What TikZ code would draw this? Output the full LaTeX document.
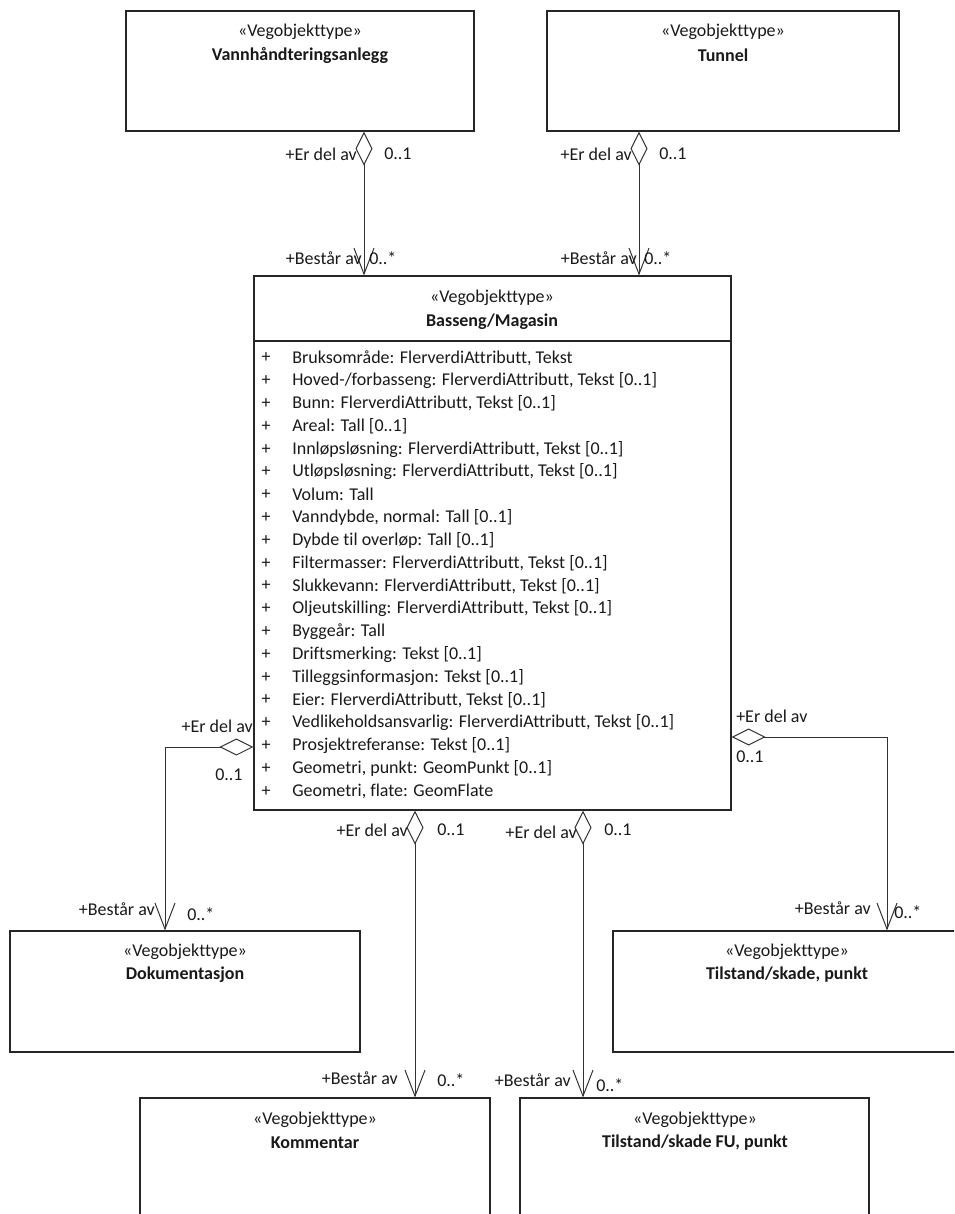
\documentclass[tikz,border=0pt]{standalone}
\usepackage{fontspec}
\setmainfont{Carlito}[Ligatures=NoCommon]
\usetikzlibrary{arrows.meta,fit,calc}
\begin{document}
\begin{tikzpicture}[x=0.75pt,y=-0.75pt,
  box/.style={draw=black!85, line width=0.8pt, inner sep=0pt},
  txt/.style={inner sep=0pt, font=\fontsize{13.5}{16}\selectfont, text=black!90},
  nm/.style={inner sep=0pt, font=\fontsize{13.5}{16}\selectfont\bfseries, text=black!90},
  agg/.style={draw=black!80, line width=0.75pt,
    {Diamond[open,length=25.5pt,width=12.75pt,line width=0.75pt]}-{Straight Barb[length=19.5pt,width=15pt,line width=0.75pt]}}]
\useasboundingbox (0,0) rectangle (954,1214);
\clip (0,0) rectangle (954,1214);

% boxes
\node[box, fit={(126,11) (474,131)}] (vann) {};
\node[txt] (vann-s) at (300,32) {«Vegobjekttype»};
\node[nm] (vann-n) at (300,55) {Vannhåndteringsanlegg};

\node[box, fit={(547,11) (899,131)}] (tunnel) {};
\node[txt] (tunnel-s) at (723,32) {«Vegobjekttype»};
\node[nm] (tunnel-n) at (723,55) {Tunnel};

\node[box, fit={(254,276) (731,810)}] (bass) {};
\node[txt] (bass-s) at (492,298) {«Vegobjekttype»};
\node[nm] (bass-n) at (492,322) {Basseng/Magasin};
\coordinate (sep) at (0,341);
\draw[draw=black!85, line width=0.8pt] (bass.west |- sep) -- (bass.east |- sep);

\foreach \t [count=\i from 0] in {
  {Bruksområde: FlerverdiAttributt, Tekst},
  {Hoved-/forbasseng: FlerverdiAttributt, Tekst [0..1]},
  {Bunn: FlerverdiAttributt, Tekst [0..1]},
  {Areal: Tall [0..1]},
  {Innløpsløsning: FlerverdiAttributt, Tekst [0..1]},
  {Utløpsløsning: FlerverdiAttributt, Tekst [0..1]},
  {Volum: Tall},
  {Vanndybde, normal: Tall [0..1]},
  {Dybde til overløp: Tall [0..1]},
  {Filtermasser: FlerverdiAttributt, Tekst [0..1]},
  {Slukkevann: FlerverdiAttributt, Tekst [0..1]},
  {Oljeutskilling: FlerverdiAttributt, Tekst [0..1]},
  {Byggeår: Tall},
  {Driftsmerking: Tekst [0..1]},
  {Tilleggsinformasjon: Tekst [0..1]},
  {Eier: FlerverdiAttributt, Tekst [0..1]},
  {Vedlikeholdsansvarlig: FlerverdiAttributt, Tekst [0..1]},
  {Prosjektreferanse: Tekst [0..1]},
  {Geometri, punkt: GeomPunkt [0..1]},
  {Geometri, flate: GeomFlate}} {
  \node[txt] (p\i) at (266,{358+22.8*\i}) {+};
  \node[txt, anchor=west] (a\i) at (292,{358+22.8*\i}) {\t};
}

\node[box, fit={(10,931) (360,1052)}] (doku) {};
\node[txt] (doku-s) at (185,952) {«Vegobjekttype»};
\node[nm] (doku-n) at (185,975) {Dokumentasjon};

\node[box, fit={(613,931) (960,1052)}] (tsp) {};
\node[txt] (tsp-s) at (787,952) {«Vegobjekttype»};
\node[nm] (tsp-n) at (787,975) {Tilstand/skade, punkt};

\node[box, fit={(140,1098) (490,1222)}] (komm) {};
\node[txt] (komm-s) at (315,1120) {«Vegobjekttype»};
\node[nm] (komm-n) at (315,1143) {Kommentar};

\node[box, fit={(520,1098) (869,1222)}] (fu) {};
\node[txt] (fu-s) at (695,1120) {«Vegobjekttype»};
\node[nm] (fu-n) at (695,1143) {Tilstand/skade FU, punkt};

% connector positions
\coordinate (c1) at (364,0);
\coordinate (c2) at (639,0);
\coordinate (c3) at (415,0);
\coordinate (c4) at (583,0);
\coordinate (cL) at (165,747);
\coordinate (cR) at (887,737);

\draw[agg] (c1 |- vann.south) -- (c1 |- bass.north);
\draw[agg] (c2 |- tunnel.south) -- (c2 |- bass.north);
\draw[agg] (c3 |- bass.south) -- (c3 |- komm.north);
\draw[agg] (c4 |- bass.south) -- (c4 |- fu.north);
\draw[agg] (cL -| bass.west) -- (cL) -- (cL |- doku.north);
\draw[agg] (cR -| bass.east) -- (cR) -- (cR |- tsp.north);

% role labels
\node[txt, anchor=east] (l1a) at (357,154) {+Er del av};
\node[txt, anchor=west] (l1b) at (384,154) {0..1};
\node[txt, anchor=east] (l1c) at (362,258) {+Består av};
\node[txt, anchor=west] (l1d) at (369,258) {0..*};

\node[txt, anchor=east] (l2a) at (632,154) {+Er del av};
\node[txt, anchor=west] (l2b) at (659,154) {0..1};
\node[txt, anchor=east] (l2c) at (637,258) {+Består av};
\node[txt, anchor=west] (l2d) at (644,258) {0..*};

\node[txt, anchor=east] (l3a) at (253,726) {+Er del av};
\node[txt, anchor=west] (l3b) at (215,775) {0..1};
\node[txt, anchor=east] (l3c) at (155,909) {+Består av};
\node[txt, anchor=west] (l3d) at (187,914) {0..*};

\node[txt, anchor=west] (l4a) at (736,716) {+Er del av};
\node[txt, anchor=west] (l4b) at (736,757) {0..1};
\node[txt, anchor=east] (l4c) at (871,908) {+Består av};
\node[txt, anchor=west] (l4d) at (894,912) {0..*};

\node[txt, anchor=east] (l5a) at (408,830) {+Er del av};
\node[txt, anchor=west] (l5b) at (437,830) {0..1};
\node[txt, anchor=east] (l5c) at (398,1078) {+Består av};
\node[txt, anchor=west] (l5d) at (437,1080) {0..*};

\node[txt, anchor=east] (l6a) at (577,832) {+Er del av};
\node[txt, anchor=west] (l6b) at (604,830) {0..1};
\node[txt, anchor=east] (l6c) at (571,1080) {+Består av};
\node[txt, anchor=west] (l6d) at (596,1085) {0..*};
\end{tikzpicture}
\end{document}
